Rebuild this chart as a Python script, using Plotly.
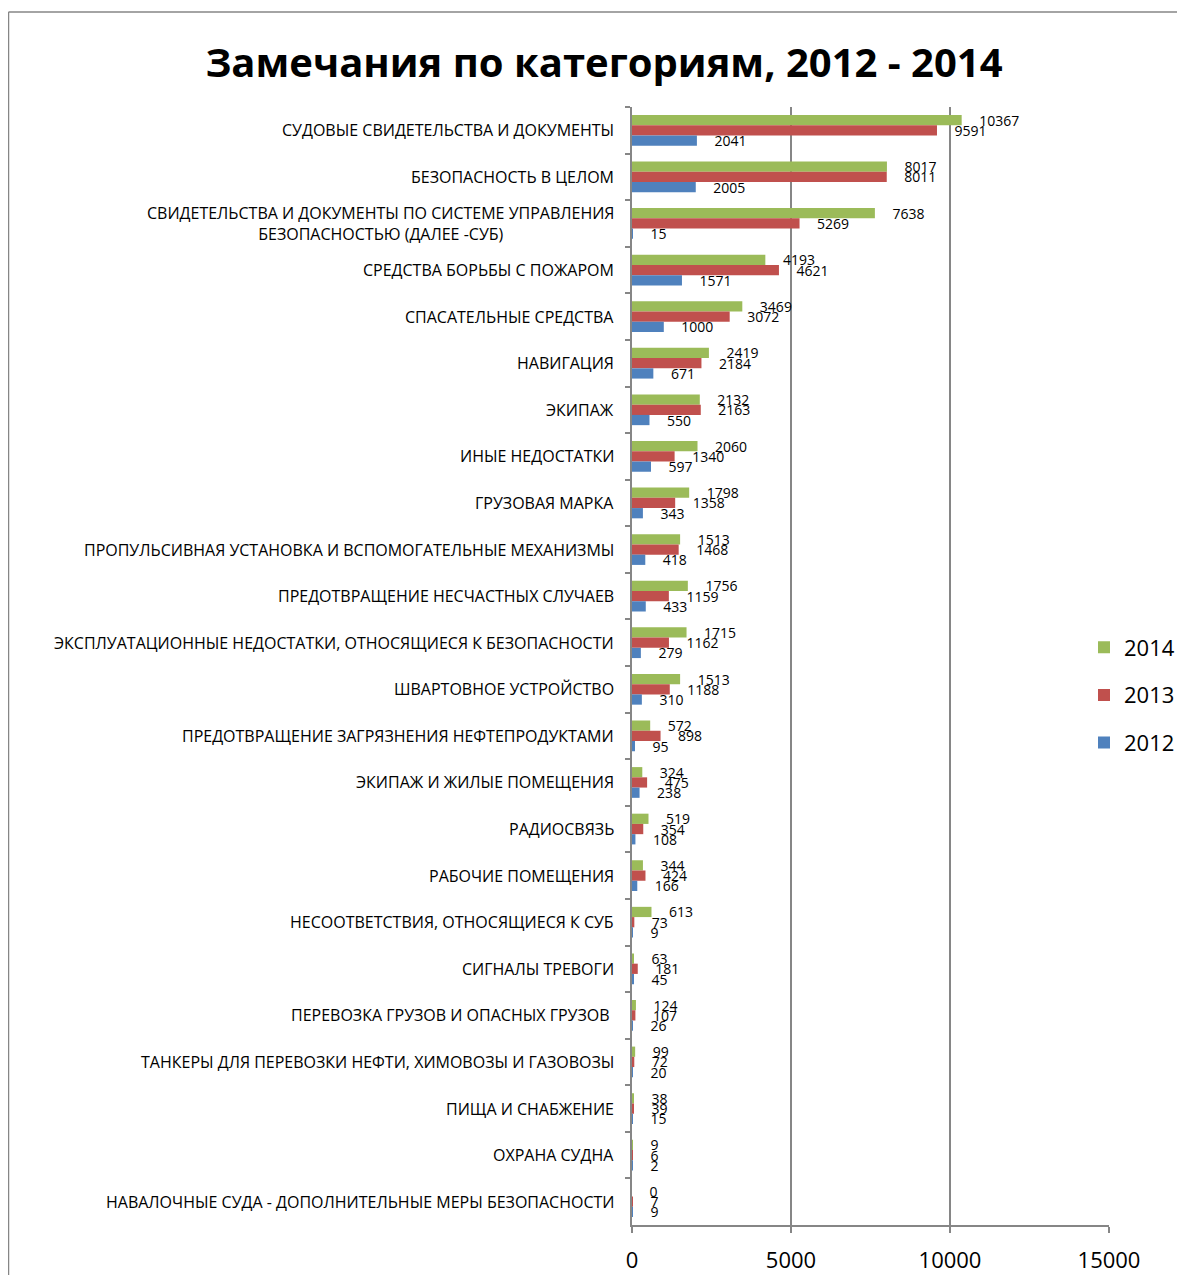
import plotly.graph_objects as go

categories = [
    "СУДОВЫЕ СВИДЕТЕЛЬСТВА И ДОКУМЕНТЫ",
    "БЕЗОПАСНОСТЬ В ЦЕЛОМ",
    "СВИДЕТЕЛЬСТВА И ДОКУМЕНТЫ ПО СИСТЕМЕ УПРАВЛЕНИЯ<br>БЕЗОПАСНОСТЬЮ (ДАЛЕЕ -СУБ)",
    "СРЕДСТВА БОРЬБЫ С ПОЖАРОМ",
    "СПАСАТЕЛЬНЫЕ СРЕДСТВА",
    "НАВИГАЦИЯ",
    "ЭКИПАЖ",
    "ИНЫЕ НЕДОСТАТКИ",
    "ГРУЗОВАЯ МАРКА",
    "ПРОПУЛЬСИВНАЯ УСТАНОВКА И ВСПОМОГАТЕЛЬНЫЕ МЕХАНИЗМЫ",
    "ПРЕДОТВРАЩЕНИЕ НЕСЧАСТНЫХ СЛУЧАЕВ",
    "ЭКСПЛУАТАЦИОННЫЕ НЕДОСТАТКИ, ОТНОСЯЩИЕСЯ К БЕЗОПАСНОСТИ",
    "ШВАРТОВНОЕ УСТРОЙСТВО",
    "ПРЕДОТВРАЩЕНИЕ ЗАГРЯЗНЕНИЯ НЕФТЕПРОДУКТАМИ",
    "ЭКИПАЖ И ЖИЛЫЕ ПОМЕЩЕНИЯ",
    "РАДИОСВЯЗЬ",
    "РАБОЧИЕ ПОМЕЩЕНИЯ",
    "НЕСООТВЕТСТВИЯ, ОТНОСЯЩИЕСЯ К СУБ",
    "СИГНАЛЫ ТРЕВОГИ",
    "ПЕРЕВОЗКА ГРУЗОВ И ОПАСНЫХ ГРУЗОВ ",
    "ТАНКЕРЫ ДЛЯ ПЕРЕВОЗКИ НЕФТИ, ХИМОВОЗЫ И ГАЗОВОЗЫ",
    "ПИЩА И СНАБЖЕНИЕ",
    "ОХРАНА СУДНА",
    "НАВАЛОЧНЫЕ СУДА - ДОПОЛНИТЕЛЬНЫЕ МЕРЫ БЕЗОПАСНОСТИ",
]

values_2014 = [10367, 8017, 7638, 4193, 3469, 2419, 2132, 2060, 1798, 1513, 1756, 1715,
               1513, 572, 324, 519, 344, 613, 63, 124, 99, 38, 9, 0]
values_2013 = [9591, 8011, 5269, 4621, 3072, 2184, 2163, 1340, 1358, 1468, 1159, 1162,
               1188, 898, 475, 354, 424, 73, 181, 107, 72, 39, 6, 7]
values_2012 = [2041, 2005, 15, 1571, 1000, 671, 550, 597, 343, 418, 433, 279,
               310, 95, 238, 108, 166, 9, 45, 26, 20, 15, 2, 9]

series = [
    ("2014", values_2014, "#9BBB59"),
    ("2013", values_2013, "#C0504D"),
    ("2012", values_2012, "#4F81BD"),
]

# page body margin offset (figure starts at 8,8 in the window)
OFF = 8
W, H = 1185 - OFF, 1267
ML = 632 - OFF
MR = W - (1109 - OFF)
MT = 107 - OFF
MB = H - (1225 - OFF)
PW, PH = W - ML - MR, H - MT - MB


def px_to_paper_x(px):  # px in reference window coords
    return (px - OFF - ML) / PW


def py_to_paper_y(py):
    return (H - MB - (py - OFF)) / PH


fig = go.Figure()
for name, vals, color in series:
    fig.add_trace(go.Bar(
        name=name, y=categories, x=vals, orientation="h",
        marker=dict(color=color, line=dict(width=0)),
        text=[str(v) for v in vals], texttemplate="\u00a0\u00a0\u00a0\u00a0%{text}",
        textposition="outside", constraintext="none", cliponaxis=False,
        textfont=dict(family="Open Sans", size=14, color="#000000"),
        legendgroup=name, hoverinfo="x+name",
    ))

# category labels (centered multi-line like the original)
for c in categories:
    fig.add_annotation(
        x=0, xref="paper", y=c, yref="y", text=c, showarrow=False,
        xanchor="right", align="center", xshift=-16,
        font=dict(family="Open Sans", size=16, color="#000000"),
    )

# outer frame (left and top edges visible)
fig.add_shape(type="line", xref="paper", yref="paper",
              x0=px_to_paper_x(8.5), x1=px_to_paper_x(1300),
              y0=py_to_paper_y(12), y1=py_to_paper_y(12),
              line=dict(color="#868686", width=1.5))
fig.add_shape(type="line", xref="paper", yref="paper",
              x0=px_to_paper_x(8.5), x1=px_to_paper_x(8.5),
              y0=py_to_paper_y(12), y1=py_to_paper_y(1320),
              line=dict(color="#868686", width=1.5))

fig.update_layout(
    width=W, height=H,
    margin=dict(l=ML, r=MR, t=MT, b=MB, autoexpand=False),
    paper_bgcolor="white", plot_bgcolor="white",
    barmode="group", bargap=0.34, bargroupgap=0,
    title=dict(text="<b>Замечания по категориям, 2012 - 2014</b>",
               x=(604 - OFF) / W, xref="container", xanchor="center",
               y=1 - (63 - OFF) / H, yref="container", yanchor="middle",
               font=dict(family="Open Sans", size=40, color="#000000")),
    font=dict(family="Open Sans", color="#000000"),
    legend=dict(x=px_to_paper_x(1084), y=py_to_paper_y(695), xanchor="left", yanchor="middle",
                font=dict(family="Open Sans", size=22, color="#000000"),
                bgcolor="rgba(0,0,0,0)", tracegroupgap=16, traceorder="grouped"),
    xaxis=dict(range=[0, 15000], dtick=5000, tick0=0, tickformat="d", showgrid=True,
               gridcolor="#868686", gridwidth=1.5, zeroline=False,
               showline=True, linecolor="#868686", linewidth=1.5,
               ticks="outside", ticklen=6, tickcolor="#868686", tickwidth=1.5,
               tickfont=dict(family="Open Sans", size=22, color="#000000"),
               ticklabelstandoff=9),
    yaxis=dict(autorange="reversed", showticklabels=False, showgrid=False,
               showline=True, linecolor="#868686", linewidth=1.5,
               ticks="outside", ticklen=5, tickcolor="#868686", tickwidth=1.5,
               tickson="boundaries"),
)

fig.write_html("out.html")
